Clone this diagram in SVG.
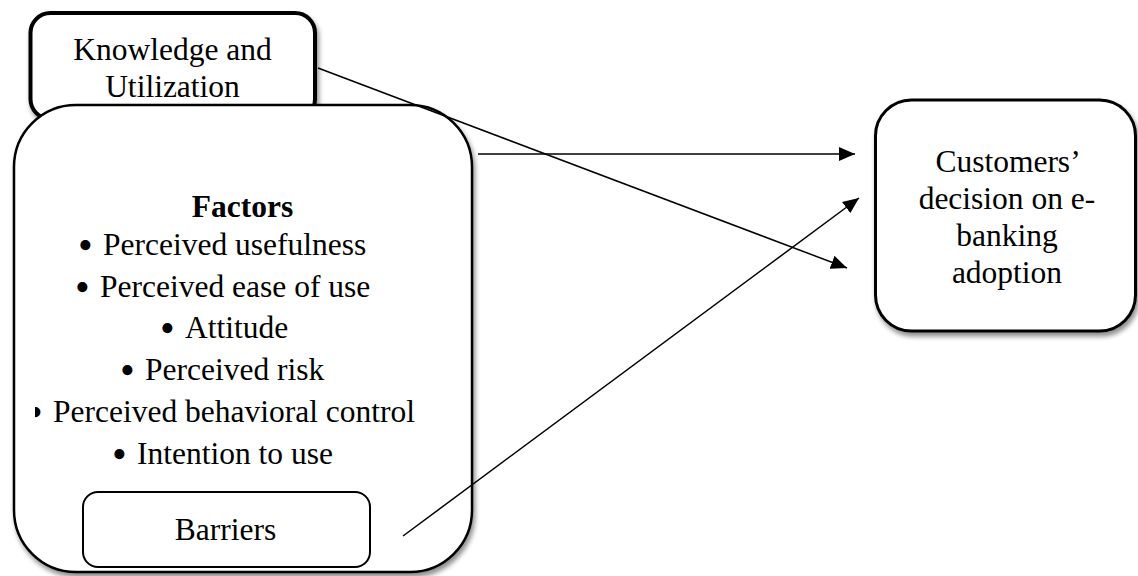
<svg xmlns="http://www.w3.org/2000/svg" width="1138" height="576" viewBox="0 0 1138 576">
<defs>
<style>
.box{fill:#fff;stroke:#000;}
.t{font-family:"Liberation Serif","Times New Roman",serif;font-size:31.5px;fill:#000;}
.bl{font-size:42px;}
.c{text-anchor:middle;}
.b{font-weight:bold;}
.conn{stroke:#000;stroke-width:1.5;fill:none;marker-end:url(#ah);}
</style>
<filter id="sh" x="-10%" y="-10%" width="125%" height="125%">
<feGaussianBlur in="SourceAlpha" stdDeviation="2.5"/>
<feOffset dx="2" dy="4" result="o"/>
<feComponentTransfer><feFuncA type="linear" slope="0.45"/></feComponentTransfer>
<feMerge><feMergeNode/><feMergeNode in="SourceGraphic"/></feMerge>
</filter>
<marker id="ah" viewBox="0 0 16 14" refX="16" refY="7" markerWidth="16" markerHeight="14" markerUnits="userSpaceOnUse" orient="auto">
<path d="M0,0 L16,7 L0,14 Z" fill="#000"/>
</marker>
<clipPath id="clipLine"><rect x="35" y="380" width="420" height="60"/></clipPath>
</defs>

<g id="knowledge">
<rect class="box" x="30.5" y="13" width="284.5" height="106" rx="20" stroke-width="4" filter="url(#sh)"/>
<text class="t c" x="172.5" y="60">Knowledge and</text>
<text class="t c" x="172.5" y="97">Utilization</text>
</g>

<g id="factors">
<rect class="box" x="14" y="105" width="458" height="467" rx="62" stroke-width="2.5" filter="url(#sh)"/>
<text class="t c b" x="242.5" y="217">Factors</text>
<text class="t"><tspan class="bl" x="78" y="259">•</tspan><tspan x="103" y="255">Perceived usefulness</tspan></text>
<text class="t"><tspan class="bl" x="75" y="301">•</tspan><tspan x="100" y="297">Perceived ease of use</tspan></text>
<text class="t"><tspan class="bl" x="160" y="342">•</tspan><tspan x="185" y="338">Attitude</tspan></text>
<text class="t"><tspan class="bl" x="120" y="384">•</tspan><tspan x="145" y="380">Perceived risk</tspan></text>
<text class="t" clip-path="url(#clipLine)"><tspan class="bl" x="28" y="426">•</tspan><tspan x="53" y="422">Perceived behavioral control</tspan></text>
<text class="t"><tspan class="bl" x="112" y="468">•</tspan><tspan x="137" y="464">Intention to use</tspan></text>
</g>

<g id="barriers">
<rect class="box" x="83" y="492" width="287" height="75" rx="15" stroke-width="2"/>
<text class="t c" x="225.5" y="540">Barriers</text>
</g>

<g id="customers">
<rect class="box" x="875.5" y="100" width="260" height="231" rx="36" stroke-width="3" filter="url(#sh)"/>
<text class="t c" x="1008" y="172">Customers’</text>
<text class="t c" x="1007" y="209">decision on e-</text>
<text class="t c" x="1007" y="246">banking</text>
<text class="t c" x="1007" y="283">adoption</text>
</g>

<g id="connectors">
<line class="conn" x1="318" y1="68" x2="847" y2="268"/>
<line class="conn" x1="478" y1="154" x2="855" y2="154"/>
<line class="conn" x1="403" y1="536" x2="859" y2="198"/>
</g>
</svg>
